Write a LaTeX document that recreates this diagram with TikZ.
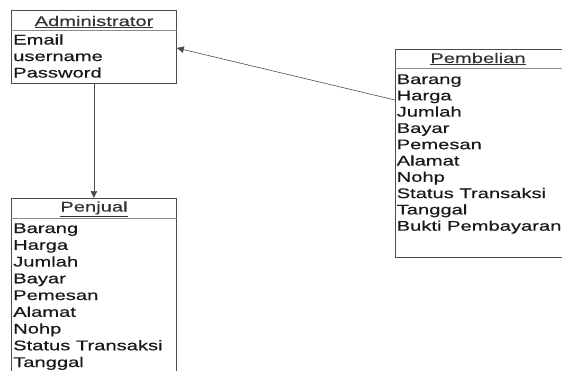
\documentclass[tikz,border=0pt]{standalone}
\usepackage{fontspec}
\setmainfont{Liberation Sans}[FakeStretch=1.44, FakeBold=0.4]
\usetikzlibrary{arrows.meta,calc}

\tikzset{
  entity/.style={draw=black!70, line width=0.8pt, rectangle, inner sep=0pt, anchor=north west},
  divider/.style={draw=black!45, line width=1pt},
  title/.style={inner sep=0pt, anchor=base, text=black!80},
  attr/.style={inner sep=0pt, anchor=base west, text=black!90},
  link/.style={draw=black!70, line width=0.6pt, -{Triangle[length=7pt,width=6.5pt]}}
}

\begin{document}
\begin{tikzpicture}[x=1pt, y=-1pt, font=\fontsize{14}{16}\selectfont]
  \useasboundingbox (0,0) rectangle (562,370);
  \clip (0,0) rectangle (562,370);
  \fill[white] (0,0) rectangle (562,370);

  % Administrator
  \node[entity, minimum width=165pt, minimum height=73pt] (admin) at (11,10) {};
  \draw[divider] ($(admin.north west)+(0,20)$) -- ($(admin.north east)+(0,20)$);
  \node[title] (admin-t) at (94,26) {\underline{Administrator}};
  \foreach \t [count=\i from 0] in {Email, username, Password}
    \node[attr] (admin-\i) at (13, 44.5+16.5*\i) {\t};

  % Pembelian
  \node[entity, minimum width=185pt, minimum height=208pt] (pemb) at (395,49) {};
  \draw[divider] ($(pemb.north west)+(0,19)$) -- ($(pemb.north east)+(0,19)$);
  \node[title] (pemb-t) at (478,63) {\underline{Pembelian}};
  \foreach \t [count=\i from 0] in {Barang, Harga, Jumlah, Bayar, Pemesan, Alamat, Nohp, Status Transaksi, Tanggal, Bukti Pembayaran}
    \node[attr] (pemb-\i) at (396.5, 84+16.3*\i) {\t};

  % Penjual
  \node[entity, minimum width=165pt, minimum height=190pt] (penj) at (11,198) {};
  \draw[divider] ($(penj.north west)+(0,20)$) -- ($(penj.north east)+(0,20)$);
  \node[title] (penj-t) at (94,211.5) {\underline{Penjual}};
  \foreach \t [count=\i from 0] in {Barang, Harga, Jumlah, Bayar, Pemesan, Alamat, Nohp, Status Transaksi, Tanggal}
    \node[attr] (penj-\i) at (13, 233+16.75*\i) {\t};

  % relations
  \draw[link] (admin.south) -- (penj.north);
  \draw[link] ($(pemb.north west)+(0,51)$) -- ($(admin.north east)+(0,38)$);
\end{tikzpicture}
\end{document}
